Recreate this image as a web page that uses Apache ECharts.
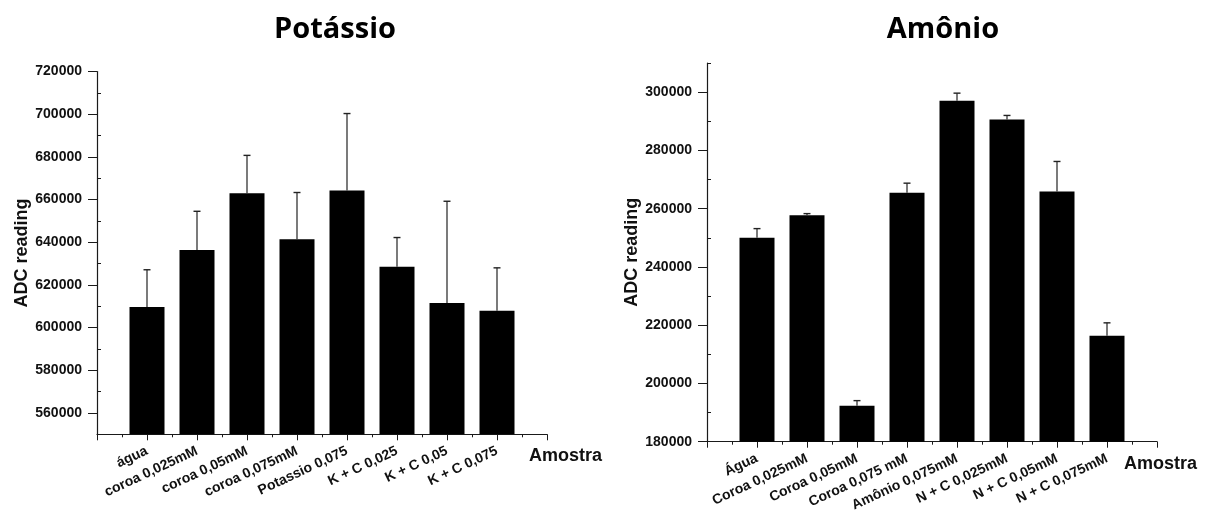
<!DOCTYPE html>
<html>
<head>
<meta charset="utf-8">
<script src="https://cdn.jsdelivr.net/npm/echarts@6/dist/echarts.min.js"></script>
<style>
  html, body { margin: 0; padding: 0; background: #fff; }
  #chart { width: 1215px; height: 525px; }
</style>
</head>
<body>
<div id="chart"></div>
<script>
// Potássio panel
const potassioCategories = ['água', 'coroa 0,025mM', 'coroa 0,05mM', 'coroa 0,075mM',
  'Potassio 0,075', 'K + C 0,025', 'K + C 0,05', 'K + C 0,075'];
const potassioMeans = [609600, 636400, 662900, 641400, 664200, 628500, 611500, 607900];
const potassioErrors = [17500, 18100, 17800, 21900, 36100, 13700, 47700, 20100];
const potassioTicks = [560000, 580000, 600000, 620000, 640000, 660000, 680000, 700000, 720000];
const potassioMinorTicks = [570000, 590000, 610000, 630000, 650000, 670000, 690000, 710000];

// Amônio panel
const amonioCategories = ['Água', 'Coroa 0,025mM', 'Coroa 0,05mM', 'Coroa 0,075 mM',
  'Amônio 0,075mM', 'N + C 0,025mM', 'N + C 0,05mM', 'N + C 0,075mM'];
const amonioMeans = [250000, 257700, 192300, 265500, 297000, 290600, 265900, 216400];
const amonioErrors = [3150, 600, 1800, 3250, 2650, 1400, 10300, 4400];
const amonioTicks = [180000, 200000, 220000, 240000, 260000, 280000, 300000];
const amonioMinorTicks = [190000, 210000, 230000, 250000, 270000, 290000, 310000];

const FONT = '"Liberation Sans", Arial, sans-serif';
const AXIS_COLOR = '#1a1a1a';

function barData(means) {
  return means.map((v, i) => [i + 1, v]);
}
function errData(means, errs) {
  return means.map((v, i) => [i + 1, v, v + errs[i]]);
}

// upper whisker with a short cap
function renderErrorBar(params, api) {
  const base = api.coord([api.value(0), api.value(1)]);
  const top = api.coord([api.value(0), api.value(2)]);
  const half = 3.5;
  return {
    type: 'group',
    children: [
      { type: 'line', shape: { x1: base[0], y1: base[1], x2: top[0], y2: top[1] },
        style: { stroke: '#222', lineWidth: 1.2 } },
      { type: 'line', shape: { x1: top[0] - half, y1: top[1], x2: top[0] + half, y2: top[1] },
        style: { stroke: '#222', lineWidth: 1.4 } }
    ]
  };
}

function xAxisFor(gridIndex, cats, nameGap) {
  return {
    type: 'value', gridIndex, min: 0, max: 9, interval: 1,
    axisLine: { show: true, onZero: false, lineStyle: { color: AXIS_COLOR, width: 1.2 } },
    axisTick: { show: true, length: 6, lineStyle: { color: AXIS_COLOR } },
    minorTick: { show: true, splitNumber: 2, length: 3, lineStyle: { color: AXIS_COLOR } },
    splitLine: { show: false },
    axisLabel: {
      rotate: 25, margin: 16, fontFamily: FONT, fontWeight: 'bold', fontSize: 14, color: '#111',
      formatter: v => cats[v - 1] || ''
    },
    name: 'Amostra', nameLocation: 'end', nameGap, nameMoveOverlap: false,
    nameTextStyle: { fontFamily: FONT, fontWeight: 'bold', fontSize: 18, color: '#111',
      align: 'left', verticalAlign: 'top', padding: [13, 0, 0, 0] }
  };
}

function yAxesFor(gridIndex, min, max, ticks, minorTicks, nameGap) {
  return [
    {
      type: 'value', gridIndex, min, max,
      axisLine: { show: true, onZero: false, lineStyle: { color: AXIS_COLOR, width: 1.2 } },
      axisTick: { show: true, length: 9, customValues: ticks, lineStyle: { color: AXIS_COLOR } },
      axisLabel: { customValues: ticks, margin: 15, fontFamily: FONT, fontWeight: 'bold',
        fontSize: 14, color: '#111', formatter: v => String(v) },
      splitLine: { show: false },
      name: 'ADC reading', nameLocation: 'middle', nameGap,
      nameTextStyle: { fontFamily: FONT, fontWeight: 'bold', fontSize: 18, color: '#111' }
    },
    {
      type: 'value', gridIndex, min, max,
      axisLine: { show: false },
      axisTick: { show: true, length: 4, customValues: minorTicks, lineStyle: { color: AXIS_COLOR } },
      axisLabel: { show: false },
      splitLine: { show: false }
    }
  ];
}

const chart = echarts.init(document.getElementById('chart'), null, { renderer: 'canvas' });

const titleStyle = { fontFamily: '"Open Sans", sans-serif', fontWeight: 'bold', fontSize: 29, color: '#000' };

chart.setOption({
  animation: false,
  backgroundColor: '#fff',
  title: [
    { text: 'Potássio', left: 330, top: 10, textAlign: 'center', textStyle: titleStyle },
    { text: 'Amônio', left: 938, top: 10, textAlign: 'center', textStyle: titleStyle }
  ],
  grid: [
    { left: 97, top: 71.5, width: 450, height: 362.8 },
    { left: 707, top: 63, width: 450, height: 378.7 }
  ],
  xAxis: [
    xAxisFor(0, potassioCategories, -18),
    xAxisFor(1, amonioCategories, -33)
  ],
  yAxis: [
    ...yAxesFor(0, 550000, 720000, potassioTicks, potassioMinorTicks, 63),
    ...yAxesFor(1, 180000, 310000, amonioTicks, amonioMinorTicks, 66)
  ],
  series: [
    { type: 'bar', xAxisIndex: 0, yAxisIndex: 0, data: barData(potassioMeans),
      barWidth: 35, itemStyle: { color: '#000' } },
    { type: 'custom', xAxisIndex: 0, yAxisIndex: 0, data: errData(potassioMeans, potassioErrors),
      renderItem: renderErrorBar, z: 3 },
    { type: 'bar', xAxisIndex: 1, yAxisIndex: 2, data: barData(amonioMeans),
      barWidth: 35, itemStyle: { color: '#000' } },
    { type: 'custom', xAxisIndex: 1, yAxisIndex: 2, data: errData(amonioMeans, amonioErrors),
      renderItem: renderErrorBar, z: 3 }
  ]
});
</script>
</body>
</html>
